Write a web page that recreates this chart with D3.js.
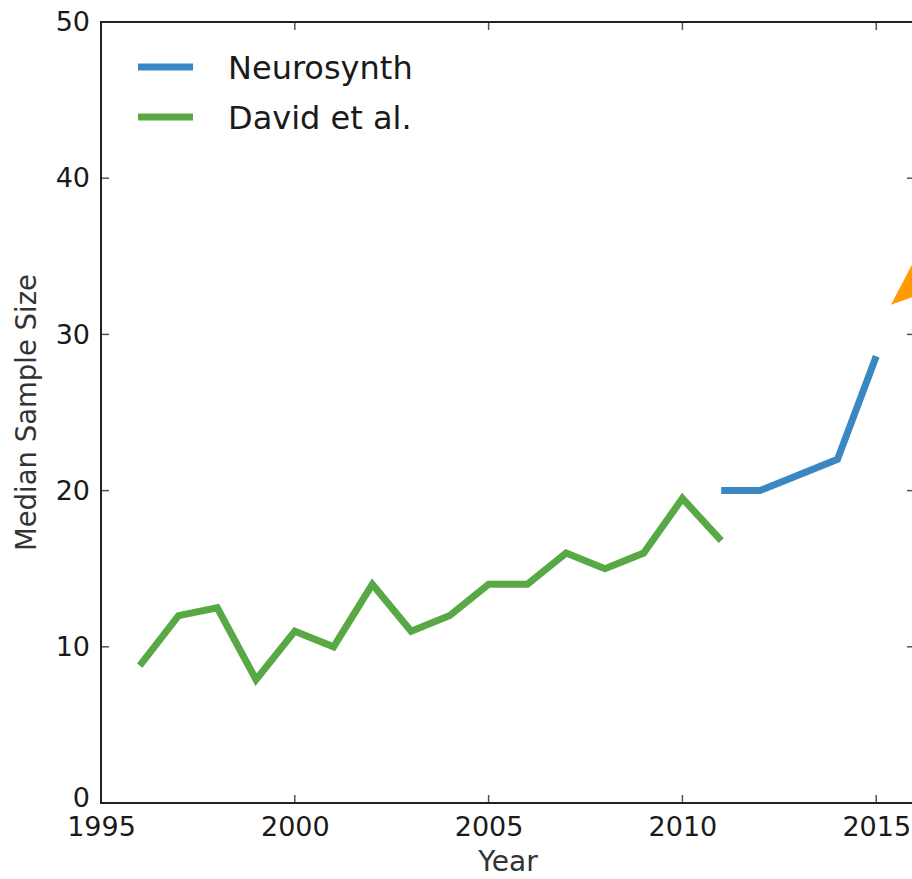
<!DOCTYPE html>
<html>
<head>
<meta charset="utf-8">
<script src="https://cdn.jsdelivr.net/npm/d3@7"></script>
<style>
  html, body { margin: 0; padding: 0; background: #fff; overflow: hidden; }
  svg { display: block; font-family: "DejaVu Sans", sans-serif; }
</style>
</head>
<body>
<svg id="chart" width="912" height="879"></svg>
<script>
  const davidYears = [1996, 1997, 1998, 1999, 2000, 2001, 2002, 2003, 2004, 2005, 2006, 2007, 2008, 2009, 2010, 2011];
  const davidValues = [8.8, 12.0, 12.5, 7.9, 11.0, 10.0, 14.0, 11.0, 12.0, 14.0, 14.0, 16.0, 15.0, 16.0, 19.5, 16.8];
  const neuroYears = [2011, 2012, 2013, 2014, 2015];
  const neuroValues = [20.0, 20.0, 21.0, 22.0, 28.6];
  const xTicks = [1995, 2000, 2005, 2010, 2015];
  const yTicks = [0, 10, 20, 30, 40, 50];
  // orange arrow head, partly off the right edge (data units)
  const arrowHead = [[2015.38, 31.9], [2016.4, 36.7], [2016.4, 32.8]];

  const width = 912;
  const height = 879;
  const margin = { left: 101, top: 22, right: 915, bottom: 803 };

  const x = d3.scaleLinear().domain([1995, 2016]).range([margin.left, margin.right]);
  const y = d3.scaleLinear().domain([0, 50]).range([margin.bottom, margin.top]);

  const svg = d3.select("#chart");

  const line = d3.line()
    .x((d) => x(d[0]))
    .y((d) => y(d[1]));

  const david = d3.zip(davidYears, davidValues);
  const neuro = d3.zip(neuroYears, neuroValues);

  svg.append("path")
    .datum(david)
    .attr("d", line)
    .attr("fill", "none")
    .attr("stroke", "#58a846")
    .attr("stroke-width", 7)
    .attr("stroke-linejoin", "miter");

  svg.append("path")
    .datum(neuro)
    .attr("d", line)
    .attr("fill", "none")
    .attr("stroke", "#3a87c2")
    .attr("stroke-width", 7)
    .attr("stroke-linejoin", "miter");

  svg.append("polygon")
    .attr("points", arrowHead.map((p) => `${x(p[0])},${y(p[1])}`).join(" "))
    .attr("fill", "#ff9a00");

  // inward ticks on all four sides
  const tickLen = 8;
  const tickColor = "#555";
  const axisBottom = d3.axisBottom(x).tickValues(xTicks).tickSize(0).tickPadding(14).tickFormat(d3.format("d"));
  const axisLeft = d3.axisLeft(y).tickValues(yTicks).tickSize(0).tickPadding(11);

  const gx = svg.append("g").attr("transform", `translate(0,${margin.bottom})`).call(axisBottom);
  gx.select(".domain").remove();
  gx.selectAll("text")
    .attr("font-size", 27)
    .attr("fill", "#1a1a1a")
    .attr("font-family", "DejaVu Sans");

  const gy = svg.append("g").attr("transform", `translate(${margin.left},0)`).call(axisLeft);
  gy.select(".domain").remove();
  gy.selectAll("text")
    .attr("font-size", 27)
    .attr("fill", "#1a1a1a")
    .attr("font-family", "DejaVu Sans");
  gy.selectAll(".tick").filter((d) => d === 0).select("text").attr("dy", "0.12em");

  const ticks = svg.append("g").attr("stroke", tickColor).attr("stroke-width", 1.5);
  xTicks.forEach((t) => {
    ticks.append("line").attr("x1", x(t)).attr("x2", x(t)).attr("y1", margin.bottom).attr("y2", margin.bottom - tickLen);
    ticks.append("line").attr("x1", x(t)).attr("x2", x(t)).attr("y1", margin.top).attr("y2", margin.top + tickLen);
  });
  yTicks.forEach((t) => {
    ticks.append("line").attr("x1", margin.left).attr("x2", margin.left + tickLen).attr("y1", y(t)).attr("y2", y(t));
    ticks.append("line").attr("x1", margin.right).attr("x2", margin.right - tickLen).attr("y1", y(t)).attr("y2", y(t));
  });

  svg.append("rect")
    .attr("x", margin.left)
    .attr("y", margin.top)
    .attr("width", margin.right - margin.left)
    .attr("height", margin.bottom - margin.top)
    .attr("fill", "none")
    .attr("stroke", "#222")
    .attr("stroke-width", 2);

  svg.append("text")
    .attr("x", 508)
    .attr("y", 871)
    .attr("text-anchor", "middle")
    .attr("font-size", 28)
    .attr("fill", "#333")
    .text("Year");

  svg.append("text")
    .attr("transform", `translate(36,${(margin.top + margin.bottom) / 2}) rotate(-90)`)
    .attr("text-anchor", "middle")
    .attr("font-size", 27.5)
    .attr("fill", "#333")
    .text("Median Sample Size");

  const legendItems = [
    { label: "Neurosynth", color: "#3a87c2", y: 67 },
    { label: "David et al.", color: "#58a846", y: 117 }
  ];

  const legend = svg.append("g");
  legendItems.forEach((item) => {
    legend.append("line")
      .attr("x1", 138).attr("x2", 193)
      .attr("y1", item.y).attr("y2", item.y)
      .attr("stroke", item.color)
      .attr("stroke-width", 7);
    legend.append("text")
      .attr("x", 228)
      .attr("y", item.y)
      .attr("dy", "0.36em")
      .attr("font-size", 32)
      .attr("fill", "#1a1a1a")
      .text(item.label);
  });
</script>
</body>
</html>
